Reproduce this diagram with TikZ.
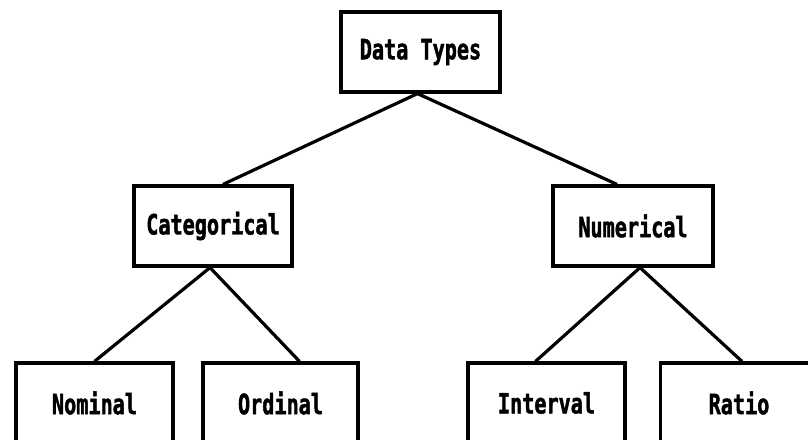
\documentclass[tikz,border=0pt]{standalone}
\usepackage{fontspec}
\newfontfamily\boxfont[FakeStretch=0.72,FakeBold=1.5]{DejaVu Sans Mono Bold}
\begin{document}
\begin{tikzpicture}[x=1pt,y=-1pt,
  box/.style={draw=black, line width=3.2pt, fill=white, minimum width=157pt, minimum height=80pt,
    inner sep=0pt, font=\boxfont\fontsize{28}{32}\selectfont, text=black},
  link/.style={line width=3.2pt, black}]
\useasboundingbox (0,0) rectangle (808,439);
\clip (0,0) rectangle (808,439);
\node[box, minimum width=159pt] (dt) at (420.5,52) {Data Types};
\node[box, minimum width=158pt] (cat) at (213,226) {Categorical};
\node[box, minimum width=160pt] (num) at (633,226) {Numerical};
\node[box] (nom) at (94.5,403) {Nominal};
\node[box, minimum width=155pt] (ord) at (280.5,403) {Ordinal};
\node[box] (int) at (546.5,403) {Interval};
\node[box] (rat) at (739,403) {Ratio};
\coordinate (dtb) at ([xshift=-3pt]dt.south);
\coordinate (catb) at ([xshift=-3pt]cat.south);
\coordinate (numb) at ([xshift=7pt]num.south);
\draw[link] (dtb) -- ([xshift=10pt]cat.north);
\draw[link] (dtb) -- ([xshift=-16pt]num.north);
\draw[link] (catb) -- ([xshift=0pt]nom.north);
\draw[link] (catb) -- ([xshift=19pt]ord.north);
\draw[link] (numb) -- ([xshift=-11pt]int.north);
\draw[link] (numb) -- ([xshift=3pt]rat.north);
\end{tikzpicture}
\end{document}
